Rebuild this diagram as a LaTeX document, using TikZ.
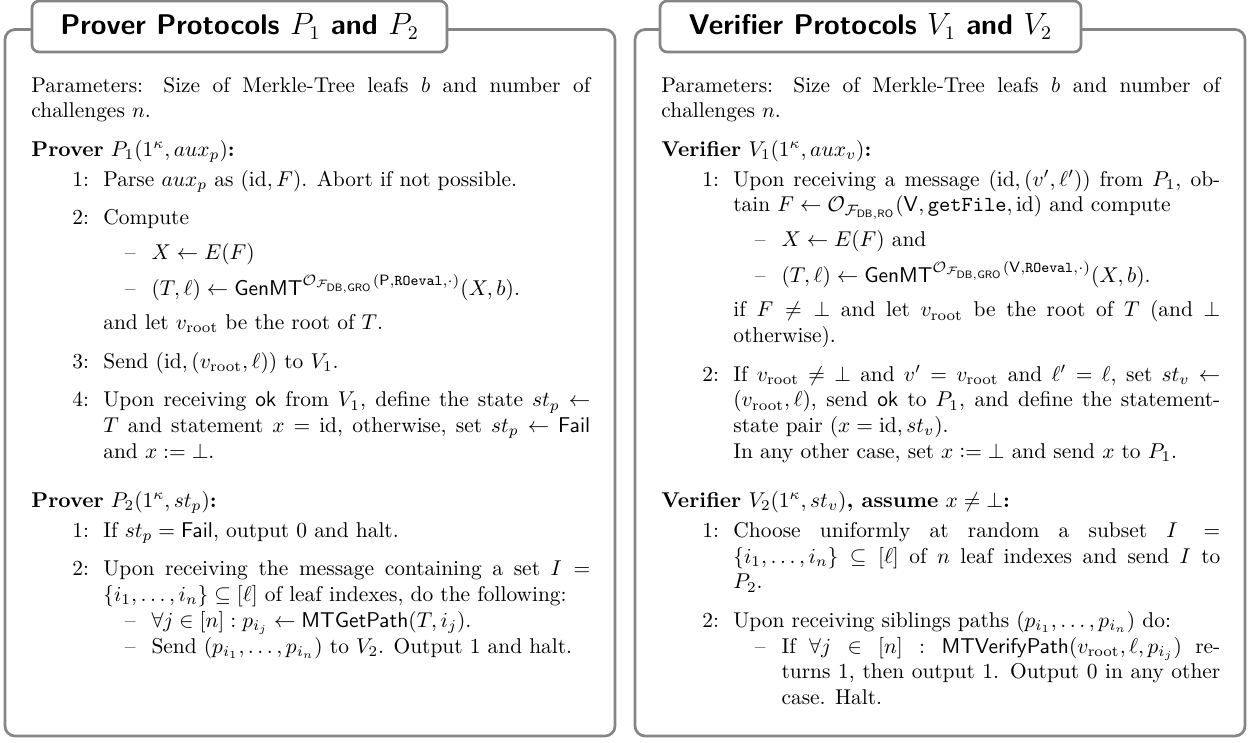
\documentclass[tikz,border=0pt]{standalone}
\usepackage{amsmath,amssymb}
\definecolor{framegray}{gray}{0.52}
\newcommand{\GRO}{\mathcal{O}_{\mathcal{F}_{\mathsf{DB},\mathsf{GRO}}}}
\newcommand{\ORO}{\mathcal{O}_{\mathcal{F}_{\mathsf{DB},\mathsf{RO}}}}
\newcommand{\vroot}{v_{\mathrm{root}}}
\newcommand{\idd}{\mathrm{id}}
\newcommand{\tallstrut}{\rule{0pt}{13.5pt}}
\newenvironment{protolist}{\begin{list}{}{%
  \setlength\leftmargin{33.6pt}\setlength\labelwidth{7.8pt}\setlength\labelsep{6.7pt}%
  \setlength\itemsep{6pt}\setlength\parsep{0pt}\setlength\topsep{2pt}\setlength\partopsep{0pt}%
  \renewcommand\makelabel[1]{\hfil##1}}}{\end{list}}
\newenvironment{dashlist}[1]{\begin{list}{}{%
  \setlength\leftmargin{22.5pt}\setlength\labelwidth{5pt}\setlength\labelsep{7.5pt}%
  \setlength\itemsep{0pt}\setlength\parsep{0pt}\setlength\topsep{#1}\setlength\partopsep{0pt}%
  \renewcommand\makelabel[1]{\hfil##1}}}{\end{list}}
\tikzset{
  frame/.style={draw=framegray, line width=1.26pt, rounded corners=4.7pt},
  titlebox/.style={draw=framegray, fill=white, line width=1.26pt, rounded corners=3.3pt,
    minimum height=23.8pt, inner sep=0pt, font=\fontsize{13.3}{16}\selectfont\sffamily\bfseries},
  body/.style={inner sep=0pt, anchor=base west}
}
\begin{document}
\begin{tikzpicture}[x=0.467pt, y=-0.467pt]
\useasboundingbox (0,0) rectangle (1250,742);
% frames
\draw[frame] (5,29.5) rectangle (615,736);
\draw[frame] (635,29.5) rectangle (1245,736);
% titles
\node[titlebox, minimum width=193.8pt] (ptitle) at (239.5,26.5) {Prover Protocols $P_1$ and $P_2$};
\node[titlebox, minimum width=196.6pt] (vtitle) at (870.5,26.5) {Verifier Protocols $V_1$ and $V_2$};
% prover body
\node[body] (pbody) at (31,92) {\begin{minipage}[t]{261pt}\tolerance=9999\hbadness=10000
Parameters: Size of Merkle-Tree leafs $b$ and number of\linebreak challenges $n$.\par
\vspace{6pt}
\textbf{Prover} $P_1(1^\kappa, aux_p)$\textbf{:}
\begin{protolist}
\item[1:] Parse $aux_p$ as $(\idd,F)$. Abort if not possible.
\item[2:] Compute
  \begin{dashlist}{4pt}
  \item[--] $X \leftarrow E(F)$
  \item[--] \tallstrut$(T,\ell) \leftarrow \mathsf{GenMT}^{\GRO(\mathsf{P},\mathtt{ROeval},\cdot)}(X,b)$.
  \end{dashlist}
  and let $\vroot$ be the root of $T$.
\item[3:] Send $(\idd,(\vroot,\ell))$ to $V_1$.
\item[4:] Upon receiving \textsf{ok} from $V_1$, define the state $st_p \leftarrow$\linebreak $T$ and statement $x=\idd$, otherwise, set $st_p \leftarrow \mathsf{Fail}$\linebreak and $x := \bot$.
\end{protolist}
\vspace{9pt}
\textbf{Prover} $P_2(1^\kappa, st_p)$\textbf{:}
\begin{protolist}
\item[1:] If $st_p = \mathsf{Fail}$, output 0 and halt.
\item[2:] Upon receiving the message containing a set $I =$\linebreak $\{i_1,\dots,i_n\} \subseteq [\ell]$ of leaf indexes, do the following:
  \begin{dashlist}{0pt}
  \item[--] $\forall j \in [n] : p_{i_j} \leftarrow \mathsf{MTGetPath}(T,i_j)$.
  \item[--] Send $(p_{i_1},\dots,p_{i_n})$ to $V_2$. Output 1 and halt.
  \end{dashlist}
\end{protolist}
\end{minipage}};
% verifier body
\node[body] (vbody) at (661,92) {\begin{minipage}[t]{261pt}\tolerance=9999\hbadness=10000
Parameters: Size of Merkle-Tree leafs $b$ and number of\linebreak challenges $n$.\par
\vspace{6pt}
\textbf{Verifier} $V_1(1^\kappa, aux_v)$\textbf{:}
\begin{protolist}
\item[1:] Upon receiving a message $(\idd,(v',\ell'))$ from $P_1$, ob-\linebreak tain $F \leftarrow \ORO(\mathsf{V},\mathtt{getFile},\idd)$ and compute
  \begin{dashlist}{4pt}
  \item[--] $X \leftarrow E(F)$ and
  \item[--] \tallstrut$(T,\ell) \leftarrow \mathsf{GenMT}^{\GRO(\mathsf{V},\mathtt{ROeval},\cdot)}(X,b)$.
  \end{dashlist}
  if $F \neq \bot$ and let $\vroot$ be the root of $T$ (and $\bot$\linebreak otherwise).
\item[2:] If $\vroot \neq \bot$ and $v' = \vroot$ and $\ell' = \ell$, set $st_v \leftarrow$\linebreak $(\vroot,\ell)$, send \textsf{ok} to $P_1$, and define the statement-\linebreak state pair $(x=\idd, st_v)$.\newline In any other case, set $x \mathrel{\mathop:}= \bot$ and send $x$ to $P_1$.
\end{protolist}
\vspace{9pt}
\textbf{Verifier} $V_2(1^\kappa, st_v)$\textbf{, assume} $x \neq \bot$\textbf{:}
\begin{protolist}
\item[1:] Choose uniformly at random a subset $I =$\linebreak $\{i_1,\dots,i_n\} \subseteq [\ell]$ of $n$ leaf indexes and send $I$ to\linebreak $P_2$.
\item[2:] Upon receiving siblings paths $(p_{i_1},\dots,p_{i_n})$ do:
  \begin{dashlist}{0pt}
  \item[--] If $\forall j \in [n] : \mathsf{MTVerifyPath}(\vroot,\ell,p_{i_j})$ re-\linebreak turns 1, then output 1. Output 0 in any other\linebreak case. Halt.
  \end{dashlist}
\end{protolist}
\end{minipage}};
\end{tikzpicture}
\end{document}
